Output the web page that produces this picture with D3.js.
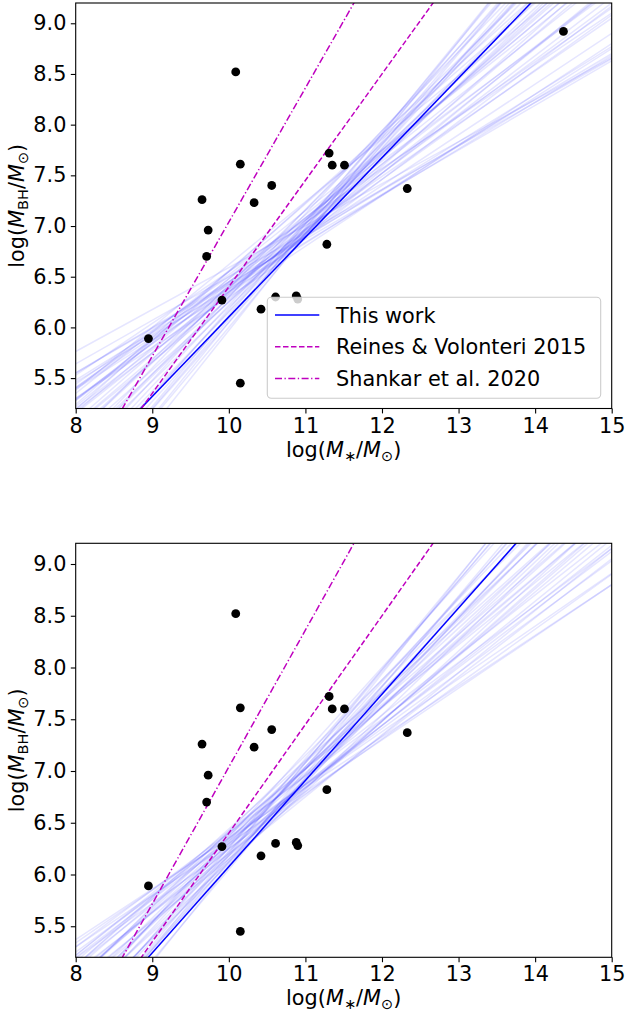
<!DOCTYPE html>
<html>
<head>
<meta charset="utf-8">
<script src="https://cdn.jsdelivr.net/npm/d3@7"></script>
<style>
  body { margin: 0; background: #fff; }
  svg { display: block; font-family: "DejaVu Sans", sans-serif; }
</style>
</head>
<body>
<div id="chart"></div>
<script>
// tick labels
var xTicks = [8, 9, 10, 11, 12, 13, 14, 15];
var yTicks = [5.5, 6.0, 6.5, 7.0, 7.5, 8.0, 8.5, 9.0];

// observed galaxies: log stellar mass and log black hole mass
var logMstar = [8.95, 9.65, 9.73, 9.71, 9.91, 10.09, 10.15, 10.15, 10.33, 10.56,
                10.42, 10.61, 10.88, 10.90, 11.31, 11.35, 11.51, 11.28, 12.33, 14.37];
var logMbh   = [5.89, 7.26, 6.96, 6.70, 6.27, 8.52, 7.61, 5.45, 7.23, 7.40,
                6.18, 6.30, 6.31, 6.28, 7.72, 7.60, 7.60, 6.82, 7.37, 8.92];
// last object is only in the top panel
var inBottom = [1, 1, 1, 1, 1, 1, 1, 1, 1, 1, 1, 1, 1, 1, 1, 1, 1, 1, 1, 0];

// relations as [slope, intercept]
var fitTop    = [0.785, -1.746];
var fitBottom = [0.833, -2.254];
var reines    = [1.05, -4.10];
var shankar   = [1.323, -6.191];

// posterior sample lines, read as [y at x=10, slope]
var samplesTop = [
  [6.59, 0.414], [6.43, 0.44], [6.50, 0.43], [6.38, 0.46], [6.45, 0.45],
  [6.35, 0.48], [6.42, 0.47], [6.30, 0.50], [6.45, 0.52], [6.38, 0.54],
  [6.50, 0.53], [6.32, 0.57], [6.40, 0.56], [6.55, 0.51], [6.45, 0.58],
  [6.35, 0.60], [6.55, 0.60], [6.28, 0.62], [6.48, 0.63], [6.62, 0.62],
  [6.40, 0.66], [6.25, 0.67], [6.55, 0.68], [6.35, 0.70], [6.56, 0.66],
  [6.20, 0.73], [6.42, 0.74], [6.30, 0.76], [6.15, 0.78], [6.38, 0.78],
  [6.22, 0.80], [6.10, 0.83], [6.30, 0.82], [6.05, 0.86], [6.18, 0.86],
  [6.00, 0.90], [6.12, 0.90], [5.97, 0.95], [6.05, 0.93], [6.25, 0.71],
  [6.48, 0.60], [6.33, 0.64], [6.40, 0.50], [6.36, 0.58], [6.52, 0.56],
  [6.44, 0.64], [6.26, 0.74], [6.34, 0.68], [6.16, 0.82], [6.08, 0.88]
];
var samplesBottom = [
  [6.35, 0.49], [6.30, 0.50], [6.36, 0.51], [6.25, 0.53], [6.33, 0.54],
  [6.40, 0.55], [6.20, 0.57], [6.28, 0.58], [6.38, 0.58], [6.15, 0.60],
  [6.42, 0.60], [6.25, 0.62], [6.35, 0.63], [6.18, 0.65], [6.30, 0.66],
  [6.44, 0.66], [6.12, 0.68], [6.22, 0.70], [6.38, 0.70], [6.10, 0.72],
  [6.28, 0.74], [6.42, 0.73], [6.15, 0.76], [6.32, 0.78], [6.08, 0.80],
  [6.22, 0.82], [6.36, 0.82], [6.12, 0.85], [6.26, 0.86], [6.05, 0.88],
  [6.18, 0.90], [6.08, 0.93], [6.40, 0.62], [6.20, 0.64], [6.30, 0.72],
  [6.14, 0.78], [6.32, 0.56], [6.24, 0.60], [6.34, 0.68], [6.18, 0.72],
  [6.26, 0.78], [6.12, 0.82], [6.40, 0.64], [6.20, 0.88]
];

var legendItems = [
  {label: "This work", color: "#0000ff", dash: null},
  {label: "Reines & Volonteri 2015", color: "#bf00bf", dash: "5.5,2.5"},
  {label: "Shankar et al. 2020", color: "#bf00bf", dash: "7,2.5,1.3,2.5"}
];

var svgWidth = 625, svgHeight = 1016;
var svg = d3.select("#chart").append("svg")
    .attr("width", svgWidth)
    .attr("height", svgHeight);

var fontSize = 20.8;
var left = 75.7, right = 611.7;

var panels = [
  {top: 3.0, bottom: 408.5, fit: fitTop, samples: samplesTop, legend: true, all: true},
  {top: 543.3, bottom: 957.3, fit: fitBottom, samples: samplesBottom, legend: false, all: false}
];

panels.forEach(function(p, pi) {
    var xScale = d3.scaleLinear().domain([8, 15]).range([left, right]);
    var yScale = d3.scaleLinear().domain([5.2, 9.2]).range([p.bottom, p.top]);

    var g = svg.append("g").attr("class", "panel");

    // clip to axes area
    var clipId = "clip" + pi;
    svg.append("clipPath").attr("id", clipId)
        .append("rect")
        .attr("x", left).attr("y", p.top)
        .attr("width", right - left).attr("height", p.bottom - p.top);

    var plotG = g.append("g").attr("clip-path", "url(#" + clipId + ")");

    var line = d3.line()
        .x(function(d) { return xScale(d[0]); })
        .y(function(d) { return yScale(d[1]); });

    // posterior samples (y at x=10 plus slope)
    plotG.selectAll(".sample")
        .data(p.samples)
        .enter()
        .append("path")
        .attr("class", "sample")
        .attr("d", function(d) {
            return line([[8, d[0] - 2 * d[1]], [15, d[0] + 5 * d[1]]]);
        })
        .attr("fill", "none")
        .attr("stroke", "rgba(0,0,255,0.1)")
        .attr("stroke-width", 1.5);

    function relation(c) {
        return line([[8, c[0] * 8 + c[1]], [15, c[0] * 15 + c[1]]]);
    }

    plotG.append("path")
        .attr("d", relation(p.fit))
        .attr("fill", "none")
        .attr("stroke", legendItems[0].color)
        .attr("stroke-width", 1.5);

    plotG.append("path")
        .attr("d", relation(reines))
        .attr("fill", "none")
        .attr("stroke", legendItems[1].color)
        .attr("stroke-dasharray", legendItems[1].dash)
        .attr("stroke-width", 1.5);

    plotG.append("path")
        .attr("d", relation(shankar))
        .attr("fill", "none")
        .attr("stroke", legendItems[2].color)
        .attr("stroke-dasharray", legendItems[2].dash)
        .attr("stroke-width", 1.5);

    // data points
    var idx = d3.range(logMstar.length).filter(function(i) { return p.all || inBottom[i]; });
    plotG.selectAll(".pt")
        .data(idx)
        .enter()
        .append("circle")
        .attr("class", "pt")
        .attr("cx", function(i) { return xScale(logMstar[i]); })
        .attr("cy", function(i) { return yScale(logMbh[i]); })
        .attr("r", 4.4)
        .attr("fill", "#000");

    // axes
    var xAxis = d3.axisBottom(xScale).tickValues(xTicks).tickFormat(d3.format("d"))
        .tickSizeInner(4.9).tickSizeOuter(0).tickPadding(4.4);
    var xAxisG = g.append("g")
        .attr("transform", "translate(0," + p.bottom + ")")
        .call(xAxis);

    var yAxis = d3.axisLeft(yScale).tickValues(yTicks).tickFormat(d3.format(".1f"))
        .tickSizeInner(4.9).tickSizeOuter(0).tickPadding(4.4);
    var yAxisG = g.append("g")
        .attr("transform", "translate(" + left + ",0)")
        .call(yAxis);

    [xAxisG, yAxisG].forEach(function(a) {
        a.select(".domain").remove();
        a.selectAll("line").attr("stroke", "#000").attr("stroke-width", 1.1);
        a.selectAll("text")
            .attr("fill", "#000")
            .style("font-size", fontSize + "px")
            .style("font-family", "DejaVu Sans");
    });

    // frame
    g.append("rect")
        .attr("x", left).attr("y", p.top)
        .attr("width", right - left).attr("height", p.bottom - p.top)
        .attr("fill", "none")
        .attr("stroke", "#000")
        .attr("stroke-width", 1.1);

    // x label
    var xl = g.append("text")
        .attr("x", (left + right) / 2)
        .attr("y", p.bottom + 48)
        .attr("text-anchor", "middle")
        .style("font-size", fontSize + "px");
    xl.append("tspan").text("log(");
    xl.append("tspan").attr("font-style", "italic").text("M");
    xl.append("tspan").attr("dy", 4).style("font-size", "14.5px").text("∗");
    xl.append("tspan").attr("dy", -4).text("/");
    xl.append("tspan").attr("font-style", "italic").text("M");
    xl.append("tspan").attr("dy", 4).style("font-size", "14.5px").text("⊙");
    xl.append("tspan").attr("dy", -4).text(")");

    // y label
    var yl = g.append("text")
        .attr("transform", "translate(24," + ((p.top + p.bottom) / 2) + ") rotate(-90)")
        .attr("text-anchor", "middle")
        .style("font-size", fontSize + "px");
    yl.append("tspan").text("log(");
    yl.append("tspan").attr("font-style", "italic").text("M");
    yl.append("tspan").attr("dy", 4).style("font-size", "14.5px").text("BH");
    yl.append("tspan").attr("dy", -4).text("/");
    yl.append("tspan").attr("font-style", "italic").text("M");
    yl.append("tspan").attr("dy", 4).style("font-size", "14.5px").text("⊙");
    yl.append("tspan").attr("dy", -4).text(")");

    // legend
    if (p.legend) {
        var lg = g.append("g").attr("class", "legend");
        lg.append("rect")
            .attr("x", 267.3).attr("y", 297.3)
            .attr("width", 333.4).attr("height", 101)
            .attr("rx", 4).attr("ry", 4)
            .attr("fill", "rgba(255,255,255,0.8)")
            .attr("stroke", "#cccccc")
            .attr("stroke-width", 1.1);

        var rows = lg.selectAll(".row")
            .data(legendItems)
            .enter()
            .append("g")
            .attr("class", "row")
            .attr("transform", function(d, i) { return "translate(0," + (315 + i * 31.7) + ")"; });

        rows.append("line")
            .attr("x1", 275).attr("x2", 319.3)
            .attr("y1", 0).attr("y2", 0)
            .attr("stroke", function(d) { return d.color; })
            .attr("stroke-dasharray", function(d) { return d.dash; })
            .attr("stroke-width", 1.5);

        rows.append("text")
            .attr("x", 336)
            .attr("y", 0)
            .attr("dy", "0.36em")
            .style("font-size", fontSize + "px")
            .text(function(d) { return d.label; });
    }
});
</script>
</body>
</html>
